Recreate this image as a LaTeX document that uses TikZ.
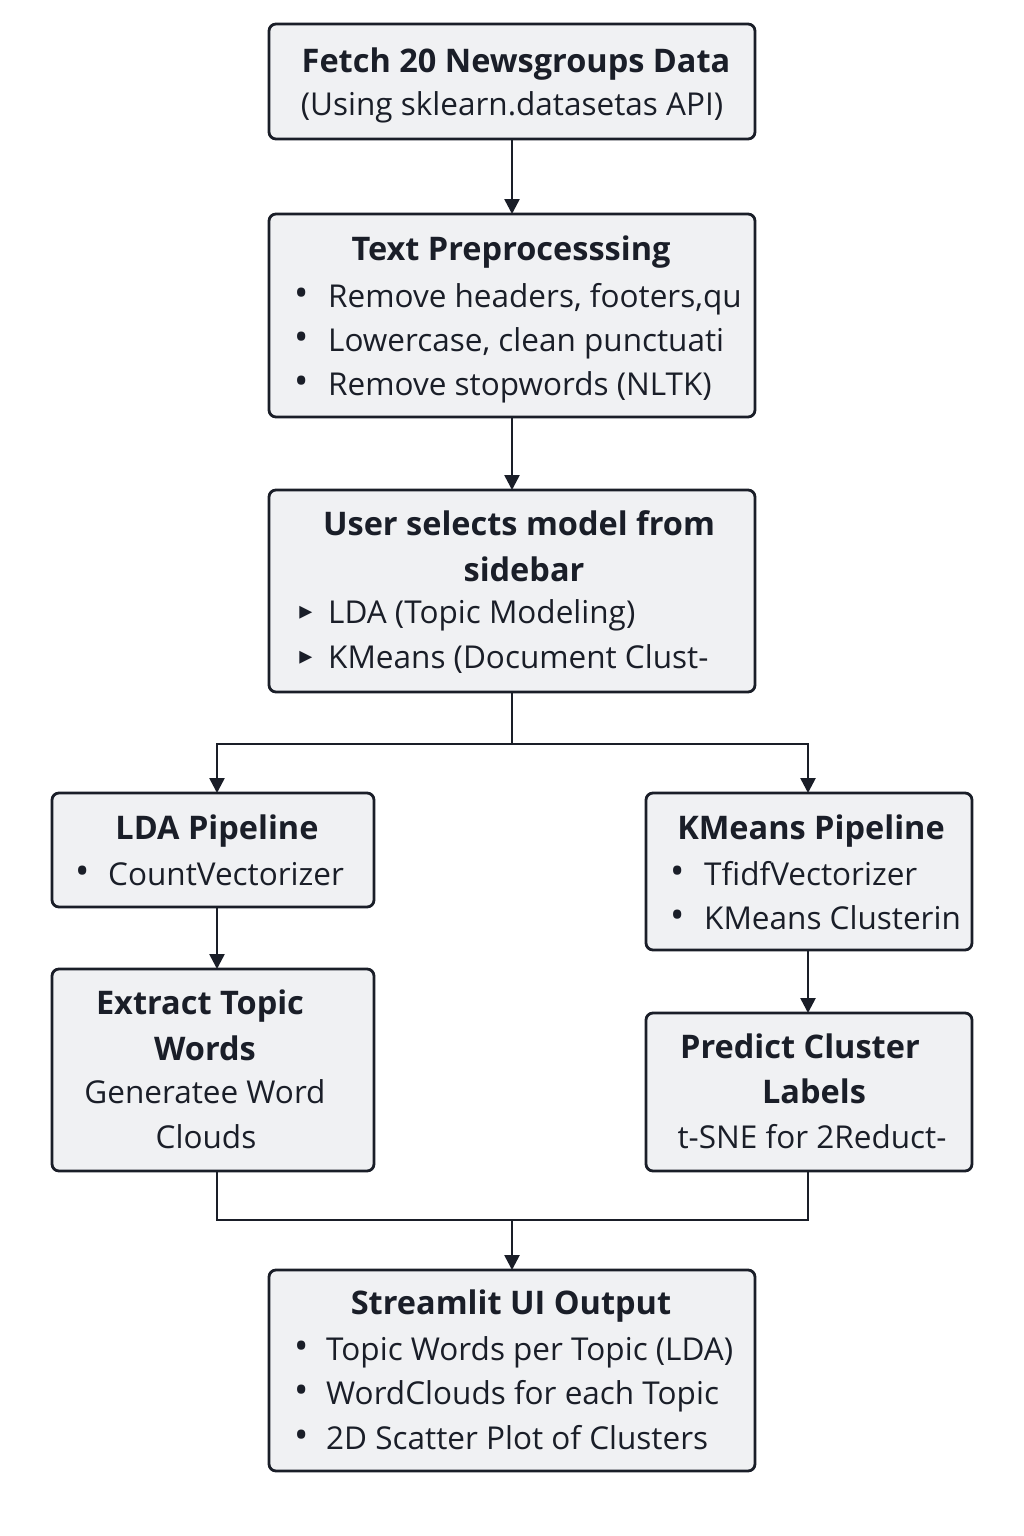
\documentclass[tikz,border=0pt]{standalone}
\usepackage{fontspec}
\setmainfont{Open Sans}
\newfontfamily\dejavu{DejaVu Sans}
\usetikzlibrary{arrows.meta}
\definecolor{boxfill}{HTML}{F0F1F3}
\definecolor{ink}{HTML}{1A1E28}
\tikzset{
  box/.style={draw=ink, line width=2.8pt, fill=boxfill, rounded corners=7pt},
  ttl/.style={font=\fontsize{32.5}{36}\selectfont\bfseries, text=ink, inner sep=0pt, anchor=mid},
  txt/.style={font=\fontsize{31.5}{35}\selectfont, text=ink, inner sep=0pt, anchor=mid},
  itm/.style={font=\fontsize{31.5}{35}\selectfont, text=ink, inner sep=0pt, anchor=mid west},
  bul/.style={font=\fontsize{38}{40}\selectfont, text=ink, inner sep=0pt, anchor=center},
  tri/.style={font=\dejavu\fontsize{26}{28}\selectfont, text=ink, inner sep=0pt, anchor=center},
  conn/.style={draw=ink, line width=2.6pt},
  arr/.style={conn, -{Triangle[length=15pt,width=15pt]}}
}
\begin{document}
\begin{tikzpicture}[x=1pt,y=-1pt]
\useasboundingbox (0,0) rectangle (1024,1536);
\fill[white] (0,0) rectangle (1024,1536);
% boxes
\draw[box] (269,24) rectangle (755,139);
\node[coordinate] (b1t) at (512,24) {}; \node[coordinate] (b1b) at (512,139) {};
\draw[box] (269,214) rectangle (755,417);
\node[coordinate] (b2t) at (512,214) {}; \node[coordinate] (b2b) at (512,417) {};
\draw[box] (269,490) rectangle (755,692);
\node[coordinate] (b3t) at (512,490) {}; \node[coordinate] (b3b) at (512,692) {};
\draw[box] (52,793) rectangle (374,907);
\node[coordinate] (b4t) at (217,793) {}; \node[coordinate] (b4b) at (217,907) {};
\draw[box] (646,793) rectangle (972,950);
\node[coordinate] (b5t) at (808,793) {}; \node[coordinate] (b5b) at (808,950) {};
\draw[box] (52,969) rectangle (374,1171);
\node[coordinate] (b6t) at (217,969) {}; \node[coordinate] (b6b) at (217,1171) {};
\draw[box] (646,1013) rectangle (972,1171);
\node[coordinate] (b7t) at (808,1013) {}; \node[coordinate] (b7b) at (808,1171) {};
\draw[box] (269,1270) rectangle (755,1471);
\node[coordinate] (b8t) at (512,1270) {};
% junction coordinates
\coordinate (j1) at (512,744);
\coordinate (j1l) at (217,744);
\coordinate (j1r) at (808,744);
\coordinate (j2) at (512,1220);
\coordinate (j2l) at (217,1220);
\coordinate (j2r) at (808,1220);
% connectors
\draw[arr] (b1b) -- (b2t);
\draw[arr] (b2b) -- (b3t);
\draw[conn] (b3b) -- (j1);
\draw[arr] (j1) -- (j1l) -- (b4t);
\draw[arr] (j1) -- (j1r) -- (b5t);
\draw[arr] (b4b) -- (b6t);
\draw[arr] (b5b) -- (b7t);
\draw[conn] (b6b) -- (j2l) -- (j2r) -- (b7b);
\draw[arr] (j2) -- (b8t);
% texts box1
\node[ttl] (t1a) at (516,70) {Fetch 20 Newsgroups Data};
\node[txt] (t1b) at (512,113) {(Using sklearn.datasetas API)};
% box2
\node[ttl] (t2a) at (511,258) {Text Preprocesssing};
\node[bul] (t2p1) at (302,297) {•}; \node[itm] (t2i1) at (328,305) {Remove headers, footers,qu};
\node[bul] (t2p2) at (302,341) {•}; \node[itm] (t2i2) at (328,349) {Lowercase, clean punctuati};
\node[bul] (t2p3) at (302,385) {•}; \node[itm] (t2i3) at (328,393) {Remove stopwords (NLTK)};
% box3
\node[ttl] (t3a) at (519,533) {User selects model from};
\node[ttl] (t3b) at (524,579) {sidebar};
\node[tri] (t3p1) at (306,613) {▸}; \node[itm] (t3i1) at (328,621) {LDA (Topic Modeling)};
\node[tri] (t3p2) at (306,658) {▸}; \node[itm] (t3i2) at (328,666) {KMeans (Document Clust-};
% box4
\node[ttl] (t4a) at (217,837) {LDA Pipeline};
\node[bul] (t4p1) at (83,875) {•}; \node[itm] (t4i1) at (108,883) {CountVectorizer};
% box5
\node[ttl] (t5a) at (811,837) {KMeans Pipeline};
\node[bul] (t5p1) at (678,875) {•}; \node[itm] (t5i1) at (704,883) {TfidfVectorizer};
\node[bul] (t5p2) at (678,919) {•}; \node[itm] (t5i2) at (704,927) {KMeans Clusterin};
% box6
\node[ttl] (t6a) at (200,1012) {Extract Topic};
\node[ttl] (t6b) at (205,1058) {Words};
\node[txt] (t6c) at (205,1101) {Generatee Word};
\node[txt] (t6d) at (206,1146) {Clouds};
% box7
\node[ttl] (t7a) at (800,1056) {Predict Cluster};
\node[ttl] (t7b) at (814,1101) {Labels};
\node[txt] (t7c) at (812,1146) {t-SNE for 2Reduct-};
% box8
\node[ttl] (t8a) at (511,1312) {Streamlit UI Output};
\node[bul] (t8p1) at (302,1350) {•}; \node[itm] (t8i1) at (326,1358) {Topic Words per Topic (LDA)};
\node[bul] (t8p2) at (302,1394) {•}; \node[itm] (t8i2) at (326,1402) {WordClouds for each Topic};
\node[bul] (t8p3) at (302,1439) {•}; \node[itm] (t8i3) at (326,1447) {2D Scatter Plot of Clusters};
\end{tikzpicture}
\end{document}
